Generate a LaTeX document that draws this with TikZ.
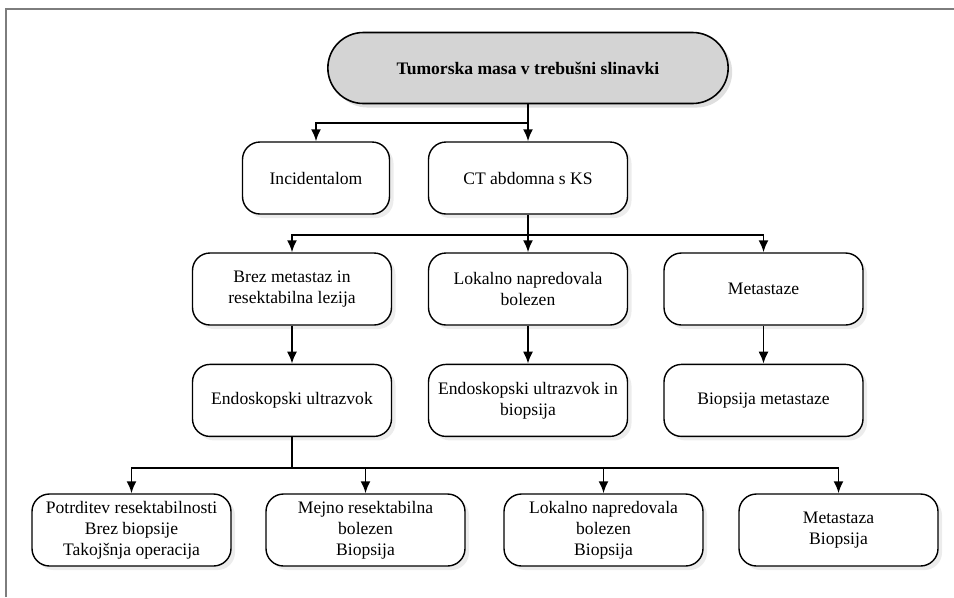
\documentclass[tikz,border=0pt]{standalone}
\usepackage{fontspec}
\setmainfont{Liberation Serif}
\usetikzlibrary{arrows.meta, positioning, shadows, shapes.misc}
\definecolor{framecolor}{RGB}{125,125,125}
\definecolor{headfill}{RGB}{212,212,212}

\begin{document}
\begin{tikzpicture}[
    head/.style={rounded rectangle, draw, line width=0.9pt, fill=headfill, minimum width=8.24cm, minimum height=1.42cm, font=\bfseries, drop shadow={opacity=0.25}},
    box/.style={rectangle, draw, line width=0.8pt, fill=white, rounded corners=0.35cm, align=center, minimum width=3.98cm, minimum height=1.44cm, inner sep=2pt, drop shadow={opacity=0.15}},
    line/.style={line width=1.1pt},
    arrow/.style={-{Latex[length=2.4mm,width=2mm]}, line width=1.1pt}]

    \useasboundingbox (0,0) rectangle (19.08,-11.94);
    \draw[framecolor, line width=0.8pt] (0.12,-11.94) |- (19.08,-0.18);

    % top
    \node [head] (tumor) at (10.56,-1.36) {Tumorska masa v trebušni slinavki};

    % second row
    \node [box, minimum width=2.94cm] (incid) at (6.32,-3.56) {Incidentalom};
    \node [box] (ct) at (10.56,-3.56) {CT abdomna s KS};

    % third row
    \node [box] (brez) at (5.84,-5.78) {Brez metastaz in\\resektabilna lezija};
    \node [box] (lokal) at (10.56,-5.78) {Lokalno napredovala\\bolezen};
    \node [box] (metas) at (15.27,-5.78) {Metastaze};

    % fourth row
    \node [box, below=0.76cm of brez] (eus) {Endoskopski ultrazvok};
    \node [box, below=0.76cm of lokal] (eusbio) {Endoskopski ultrazvok in\\biopsija};
    \node [box, below=0.76cm of metas] (biomet) {Biopsija metastaze};

    % bottom row
    \node [box] (potrd) at (2.63,-10.6) {Potrditev resektabilnosti\\Brez biopsije\\Takojšnja operacija};
    \node [box] (mejno) at (7.31,-10.6) {Mejno resektabilna\\bolezen\\Biopsija};
    \node [box] (lokbio) at (12.07,-10.6) {Lokalno napredovala\\bolezen\\Biopsija};
    \node [box] (metbio) at (16.77,-10.6) {Metastaza\\Biopsija};

    \draw [line] (tumor.south) -- ++(0,-0.38) coordinate (split1);
    \draw [arrow] (split1) -| (incid.north);
    \draw [arrow] (split1) -- (ct.north);

    \draw [line] (ct.south) -- ++(0,-0.4) coordinate (split2);
    \draw [arrow] (split2) -| (brez.north);
    \draw [arrow] (split2) -- (lokal.north);
    \draw [arrow] (split2) -| (metas.north);

    \draw [arrow] (brez) -- (eus);
    \draw [arrow] (lokal) -- (eusbio);
    \draw [arrow] (metas) -- (biomet);

    \draw [line] (eus.south) -- ++(0,-0.62) coordinate (split3);
    \draw [arrow] (split3) -| (potrd.north);
    \draw [arrow] (split3) -| (mejno.north);
    \draw [arrow] (split3) -| (lokbio.north);
    \draw [arrow] (split3) -| (metbio.north);

\end{tikzpicture}
\end{document}
